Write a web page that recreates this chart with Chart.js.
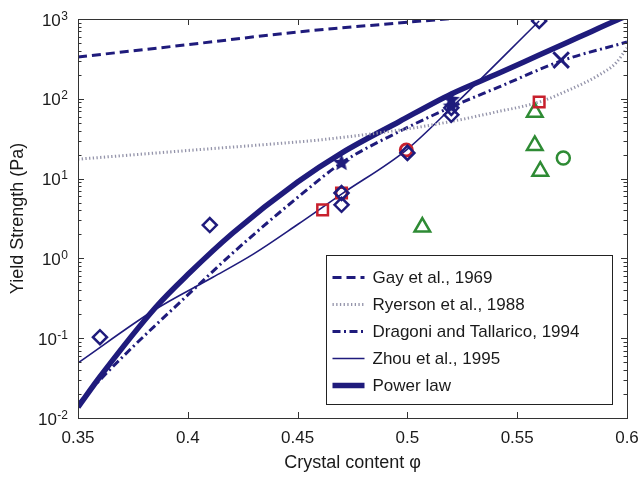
<!DOCTYPE html>
<html>
<head>
<meta charset="utf-8">
<script src="https://cdn.jsdelivr.net/npm/chart.js@4.4.1/dist/chart.umd.min.js"></script>
<style>
  body { margin: 0; background: #fff; }
</style>
</head>
<body>
<canvas id="myChart" width="641" height="479"></canvas>
<script>
// axis ticks
var xTicks = [0.35, 0.4, 0.45, 0.5, 0.55, 0.6];
var yTicks = [0.01, 0.1, 1, 10, 100, 1000];

// model curves
var phiGay = [0.35, 0.40, 0.45, 0.50, 0.52];
var valGay = [334, 477, 687, 910, 1015];

var phiRyerson = [0.35, 0.40, 0.45, 0.46, 0.50, 0.52, 0.54, 0.56, 0.5736, 0.5873, 0.595, 0.6];
var valRyerson = [17.5, 22.5, 28.8, 30.5, 42, 52, 68, 91, 129, 199, 282, 434];

var phiDragoni = [0.35, 0.36, 0.375, 0.399, 0.4205, 0.45, 0.47, 0.4964, 0.52, 0.5418, 0.57, 0.6];
var valDragoni = [0.015, 0.030, 0.078, 0.328, 1.17, 5.8, 15.7, 39, 79, 141, 298, 515];

var phiZhou = [0.35, 0.3855, 0.4114, 0.43, 0.45, 0.47, 0.4995, 0.52, 0.56];
var valZhou = [0.049, 0.232, 0.58, 1.14, 2.66, 6.4, 22.8, 77, 945];

var phiPower = [0.35, 0.36, 0.3855, 0.40, 0.4205, 0.45, 0.47, 0.4964, 0.52, 0.5418, 0.56, 0.5782, 0.5955, 0.6];
var valPower = [0.0137, 0.0329, 0.246, 0.627, 2.08, 9.06, 20.9, 52, 115, 210, 354, 594, 971, 1091];

// measured data points
var phiDiamond = [0.36, 0.41, 0.47, 0.47, 0.50, 0.52, 0.52, 0.56];
var valDiamond = [0.103, 2.62, 4.7, 6.6, 21, 77, 63, 945];

var phiStar = [0.47, 0.52, 0.52];
var valStar = [15.7, 97, 80];

var phiCross = [0.57];
var valCross = [306];

var phiRedSquare = [0.4614, 0.47, 0.56];
var valRedSquare = [4.05, 6.6, 91];

var phiRedCircle = [0.4995];
var valRedCircle = [22.8];

var phiTriangle = [0.5068, 0.558, 0.558, 0.5605];
var valTriangle = [2.47, 68, 26, 12.4];

var phiGreenCircle = [0.571];
var valGreenCircle = [18.1];

var navy = '#1f1b7c';
var red = '#c8202d';
var green = '#2e8b34';
var font = '"Liberation Sans", Arial, sans-serif';

function pts(xs, ys) {
    return xs.map(function (x, i) { return { x: x, y: ys[i] }; });
}

function starImage(r, color) {
    var c = document.createElement('canvas');
    c.width = c.height = 2 * r + 2;
    var g = c.getContext('2d');
    g.fillStyle = color;
    g.beginPath();
    for (var i = 0; i < 10; i++) {
        var a = -Math.PI / 2 + i * Math.PI / 5;
        var rr = i % 2 ? r * 0.45 : r;
        g.lineTo(r + 1 + rr * Math.cos(a), r + 1 + rr * Math.sin(a));
    }
    g.closePath();
    g.fill();
    return c;
}

function markers(label, xs, ys, style, color, radius, width) {
    return {
        label: label,
        data: pts(xs, ys),
        showLine: false,
        pointStyle: style,
        pointRadius: radius,
        pointBorderColor: color,
        pointBackgroundColor: 'rgba(0,0,0,0)',
        pointBorderWidth: width
    };
}

function curve(label, xs, ys, width, dash, color) {
    return {
        label: label,
        data: pts(xs, ys),
        showLine: true,
        isCurve: true,
        borderColor: color || navy,
        borderWidth: width,
        borderDash: dash,
        borderCapStyle: 'butt',
        pointRadius: 0,
        fill: false,
        cubicInterpolationMode: 'monotone'
    };
}

var datasets = [
    markers('d', phiDiamond, valDiamond, 'rectRot', navy, 7, 2.5),
    markers('s', phiStar, valStar, starImage(9, navy), navy, 9, 0),
    markers('x', phiCross, valCross, 'crossRot', navy, 11, 3),
    markers('rs', phiRedSquare, valRedSquare, 'rect', red, 7.5, 2.5),
    markers('rc', phiRedCircle, valRedCircle, 'circle', red, 6, 3),
    markers('gt', phiTriangle, valTriangle, 'triangle', green, 9, 2.5),
    markers('gc', phiGreenCircle, valGreenCircle, 'circle', green, 6.5, 2.5),
    curve('Gay et al., 1969', phiGay, valGay, 3, [9, 5]),
    curve('Ryerson et al., 1988', phiRyerson, valRyerson, 3, [1.3, 2.4], '#9494aa'),
    curve('Dragoni and Tallarico, 1994', phiDragoni, valDragoni, 3, [8, 3.5, 2, 3.5]),
    curve('Zhou et al., 1995', phiZhou, valZhou, 1.6, []),
    curve('Power law', phiPower, valPower, 5.5, [])
];

// frame, inside ticks, superscript y labels and the legend box
var decorations = {
    id: 'decorations',
    afterDraw: function (chart) {
        var ctx = chart.ctx;
        var a = chart.chartArea;
        var xs = chart.scales.x;
        var ys = chart.scales.y;
        ctx.save();
        ctx.strokeStyle = '#333';
        ctx.lineWidth = 1;
        ctx.setLineDash([]);

        function seg(x1, y1, x2, y2) {
            ctx.beginPath();
            ctx.moveTo(x1, y1);
            ctx.lineTo(x2, y2);
            ctx.stroke();
        }

        xTicks.forEach(function (v) {
            var px = Math.round(xs.getPixelForValue(v)) + 0.5;
            seg(px, a.bottom, px, a.bottom - 6);
            seg(px, a.top, px, a.top + 6);
        });

        for (var k = -2; k < 3; k++) {
            for (var m = 1; m < 10; m++) {
                var py = Math.round(ys.getPixelForValue(m * Math.pow(10, k))) + 0.5;
                var len = m === 1 ? 6 : 3.5;
                seg(a.left, py, a.left + len, py);
                seg(a.right, py, a.right - len, py);
            }
        }
        ctx.strokeRect(Math.round(a.left) + 0.5, Math.round(a.top) + 0.5,
            Math.round(a.right - a.left), Math.round(a.bottom - a.top));

        // y tick labels as 10 with a raised exponent
        ctx.fillStyle = '#1a1a1a';
        ctx.textBaseline = 'alphabetic';
        yTicks.forEach(function (v) {
            var py = ys.getPixelForValue(v);
            var e = String(Math.round(Math.log10(v)));
            var right = a.left - 10;
            ctx.font = '12px ' + font;
            ctx.textAlign = 'left';
            var ew = ctx.measureText(e).width;
            ctx.fillText(e, right - ew, py + 0.5);
            ctx.font = '17px ' + font;
            ctx.textAlign = 'right';
            ctx.fillText('10', right - ew - 0.5, py + 6.5);
        });

        // legend
        var bw = 286, bh = 149;
        var bx = Math.round(a.right - 15 - bw) + 0.5;
        var by = Math.round(a.bottom - 14 - bh) + 0.5;
        ctx.fillStyle = '#fff';
        ctx.fillRect(bx, by, bw, bh);
        ctx.strokeStyle = '#222';
        ctx.lineWidth = 1;
        ctx.strokeRect(bx, by, bw, bh);

        var row = 0;
        chart.data.datasets.forEach(function (ds) {
            if (!ds.isCurve) return;
            var cy = by + 22 + row * 27;
            ctx.strokeStyle = ds.borderColor;
            ctx.lineWidth = ds.borderWidth;
            ctx.setLineDash(ds.borderDash);
            seg(bx + 6, cy, bx + 38, cy);
            ctx.setLineDash([]);
            ctx.fillStyle = '#1a1a1a';
            ctx.font = '17px ' + font;
            ctx.textAlign = 'left';
            ctx.textBaseline = 'middle';
            ctx.fillText(ds.label, bx + 46, cy + 1);
            row++;
        });
        ctx.restore();
    }
};

var ctx = document.getElementById('myChart').getContext('2d');
var myChart = new Chart(ctx, {
    type: 'scatter',
    data: { datasets: datasets },
    options: {
        responsive: false,
        animation: false,
        layout: { padding: { top: 19, right: 13, left: 0, bottom: 0 } },
        plugins: {
            legend: { display: false },
            tooltip: { enabled: false }
        },
        scales: {
            x: {
                type: 'linear',
                min: 0.35,
                max: 0.6,
                grid: { display: false },
                border: { display: false },
                afterBuildTicks: function (scale) {
                    scale.ticks = xTicks.map(function (v) { return { value: v }; });
                },
                afterFit: function (scale) {
                    scale.height = 61;
                    scale.paddingLeft = 0;
                    scale.paddingRight = 0;
                },
                ticks: {
                    padding: 2,
                    color: '#1a1a1a',
                    font: { family: font, size: 17 },
                    maxRotation: 0,
                    callback: function (v) { return String(+v.toFixed(2)); }
                },
                title: {
                    display: true,
                    text: 'Crystal content \u03c6',
                    color: '#1a1a1a',
                    font: { family: font, size: 18 },
                    padding: { top: 0, bottom: 5 }
                }
            },
            y: {
                type: 'logarithmic',
                min: 0.01,
                max: 1000,
                grid: { display: false },
                border: { display: false },
                afterBuildTicks: function (scale) {
                    scale.ticks = yTicks.map(function (v) { return { value: v }; });
                },
                afterFit: function (scale) { scale.width = 78; },
                ticks: { display: false },
                title: {
                    display: true,
                    text: 'Yield Strength (Pa)',
                    color: '#1a1a1a',
                    font: { family: font, size: 18 },
                    padding: { top: 7, bottom: 0 }
                }
            }
        }
    },
    plugins: [decorations]
});
</script>
</body>
</html>
